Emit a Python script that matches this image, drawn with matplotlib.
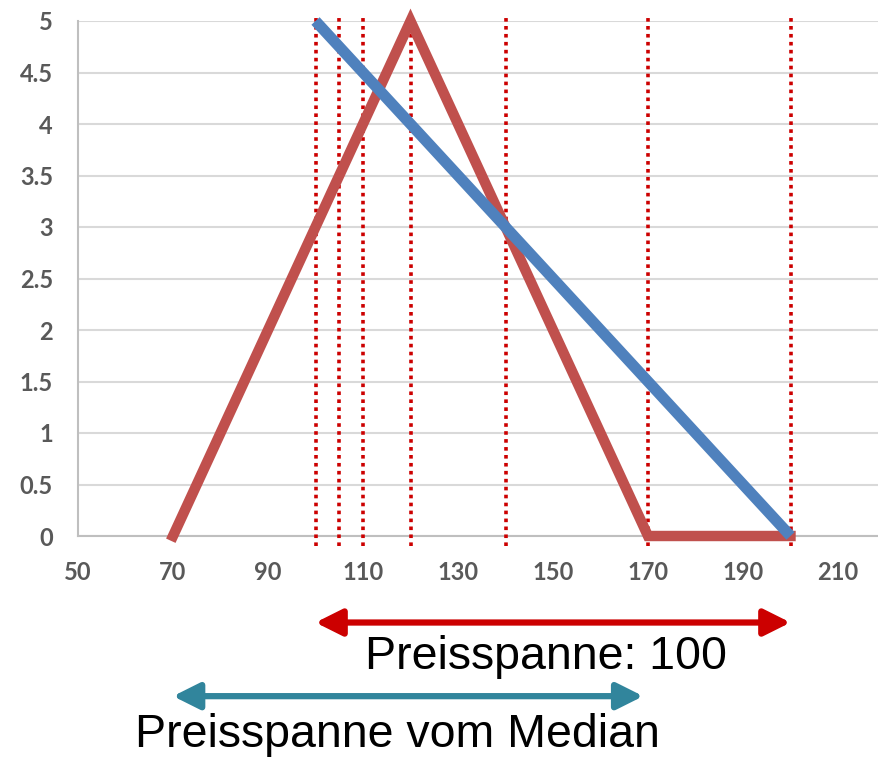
import matplotlib.pyplot as plt
from matplotlib.patches import FancyArrowPatch

# data
red_x = [70, 120, 170, 200]
red_y = [0, 5, 0, 0]
blue_x = [100, 200]
blue_y = [5, 0]
vlines_x = [100, 105, 110, 120, 140, 170, 200]
xticks = [50, 70, 90, 110, 130, 150, 170, 190, 210]
yticks = [0, 0.5, 1, 1.5, 2, 2.5, 3, 3.5, 4, 4.5, 5]
ytick_labels = ['0', '0.5', '1', '1.5', '2', '2.5', '3', '3.5', '4', '4.5', '5']
span_range = [100, 200]
median_range = [70, 169]
span_label = 'Preisspanne: 100'
median_label = 'Preisspanne vom Median'

fig = plt.figure(figsize=(8.79, 7.57), dpi=100)
ax = fig.add_axes([78/879, 1-536/757, 1-78/879, (536-21)/757])

ax.set_xlim(50, 50 + (879-78)/4.75)
ax.set_ylim(0, 5)

for y in yticks:
    ax.axhline(y, color='#D9D9D9', lw=1.5, zorder=0)

for x in vlines_x:
    ax.plot([x, x], [-0.1, 5.04], color='#CC0000', lw=2.6, ls=(0, (1, 1.2)),
            clip_on=False, zorder=3)

ax.plot(red_x, red_y, color='#C0504D', lw=7.5, solid_joinstyle='miter', zorder=4,
        clip_on=False)
ax.plot(blue_x, blue_y, color='#4F81BD', lw=8, solid_capstyle='butt', zorder=5,
        clip_on=False)

for s in ['top', 'right']:
    ax.spines[s].set_visible(False)
for s in ['left', 'bottom']:
    ax.spines[s].set_color('#BFBFBF')
    ax.spines[s].set_linewidth(1.5)

ax.set_xticks(xticks)
ax.set_xticklabels([str(v) for v in xticks])
ax.set_yticks(yticks)
ax.set_yticklabels(ytick_labels)
ax.tick_params(length=0, colors='#595959', labelsize=17)
ax.tick_params(axis='y', pad=18)
ax.tick_params(axis='x', pad=18)
for lab in ax.get_xticklabels() + ax.get_yticklabels():
    lab.set_fontweight('bold')
    lab.set_family('Lato')

# arrows below the chart (axes y coordinates below 0)
trans = ax.get_xaxis_transform()
arr1 = FancyArrowPatch((span_range[0], -0.168), (span_range[1], -0.168),
                       transform=trans, arrowstyle='<|-|>,head_length=1.6,head_width=0.8',
                       color='#CC0000', lw=4.5, mutation_scale=10, clip_on=False,
                       shrinkA=0, shrinkB=0)
arr2 = FancyArrowPatch((median_range[0], -0.311), (median_range[1], -0.311),
                       transform=trans, arrowstyle='<|-|>,head_length=1.6,head_width=0.8',
                       color='#31859C', lw=4.5, mutation_scale=10, clip_on=False,
                       shrinkA=0, shrinkB=0)
ax.add_patch(arr1)
ax.add_patch(arr2)

fig.text(546/879, 1-657/757, span_label, ha='center', va='center',
         fontsize=33.5, family='Liberation Sans', color='black')
fig.text(397/879, 1-735/757, median_label, ha='center', va='center',
         fontsize=33.5, family='Liberation Sans', color='black')

fig.savefig('out.png', dpi=100)
